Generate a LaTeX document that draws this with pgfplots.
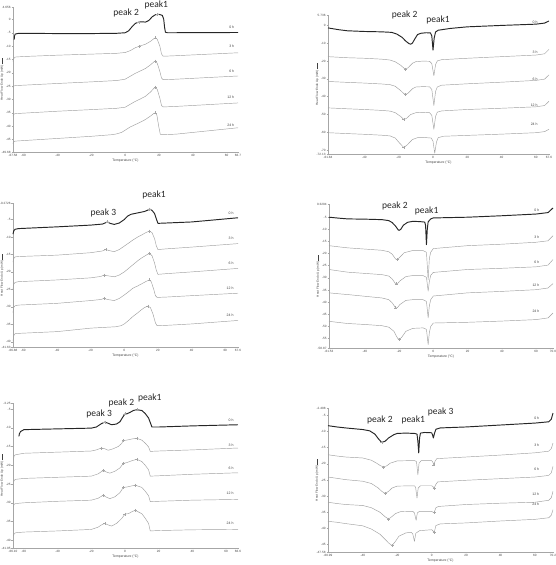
\documentclass[border=0pt]{standalone}
\usepackage{fontspec}
\setmainfont{Liberation Sans}
\newfontfamily\calib{Carlito}
\usepackage{pgfplots}
\pgfplotsset{compat=1.18}
\pgfplotsset{
  dsc/.style={
    scale only axis, anchor=south west, clip=false,
    axis x line*=bottom, axis y line*=left,
    axis line style={gray!70, line width=0.4pt, -},
    tick style={gray!70, line width=0.3pt},
    major tick length=1.5pt, tick align=outside,
    ticklabel style={font=\fontsize{3.1}{4}\selectfont, text=gray!50!black},
    /pgf/number format/assume math mode=true,
    scaled ticks=false,
    xticklabel style={inner sep=1pt},
    yticklabel style={inner sep=0.8pt},
    xlabel={Temperature (°C)},
    xlabel style={font=\fontsize{3.4}{4}\selectfont, text=gray!50!black, inner sep=1pt},
    ylabel={Heat Flow Endo Up (mW) \rule[0.25ex]{6pt}{0.5pt}},
    ylabel style={font=\fontsize{3.1}{4}\selectfont, text=gray!50!black, at={(axis description cs:-0.056,0.5)}, anchor=north, inner sep=0pt},
  },
  h0/.style={black!85, line width=0.95pt, line join=round},
  hx/.style={gray!75, line width=0.45pt, line join=round},
  pk/.style={only marks, mark=+, mark size=1.5pt, gray!70, mark options={line width=0.35pt}},
}
\newcommand{\hl}[3]{\node[font=\fontsize{3.5}{4}\selectfont, text=gray!50!black, anchor=east] at (axis cs:#1,#2) {#3};}
\newcommand{\pl}[3]{\node[font=\calib\fontsize{9.5}{11}\selectfont, text=black!85] at (axis cs:#1,#2) {#3};}
\begin{document}
\begin{tikzpicture}[x=1pt,y=1pt]
\useasboundingbox (0,0) rectangle (556,565);
% ---------------- Panel 1 ----------------
\begin{axis}[dsc, at={(13pt,413pt)}, width=225pt, height=145pt,
  xmin=-66.3, xmax=66.7, ymin=-49.68, ymax=4.656,
  xtick={-66.3,-60,-40,-20,0,20,40,60,66.7},
  xticklabels={-67.58,-60,-40,-20,0,20,40,60,66.7},
  ytick={-49.68,-45,-40,-35,-30,-25,-20,-15,-10,-5,0,4.656},
  yticklabels={-49.68,-45,-40,-35,-30,-25,-20,-15,-10,-5,0,4.656}]
\addplot[h0] coordinates {(-65.6,-7.6) (-65.4,-6.2) (-65,-5.5) (-63,-5.2) (-40,-5.3) (-20,-5.3) (-5,-5.2) (0,-5.0) (2,-4.3) (4,-2.8) (6,-1.5) (8,-1.0) (10,-0.9) (12,-1.0) (14,-0.4) (16,1.0) (18,1.8) (20,1.9) (22,1.5) (22.8,0) (23.3,-3) (23.8,-4.8) (25,-5.0) (66.7,-4.9)};
\addplot[hx] coordinates {(-66.3,-15.8) (-66,-14.8) (-65,-14.1) (-60,-13.9) (-40,-13.4) (-20,-13.0) (-5,-12.7) (0,-12.4) (3,-11.7) (6,-10.6) (9,-9.9) (12,-9.3) (15,-8.2) (17,-7.2) (18,-6.9) (19,-7.5) (20.5,-10) (21.5,-13) (22.5,-13.8) (30,-13.6) (66.7,-12.5)};
\addplot[hx] coordinates {(-66.3,-25.6) (-66,-25) (-65,-24.8) (-40,-24.0) (-20,-23.4) (-5,-22.9) (0,-22.4) (3,-21.3) (6,-20.2) (9,-19.3) (12,-18.4) (15,-17) (17,-15.9) (18,-15.6) (19,-16.5) (20.5,-19.5) (21.5,-22) (22.5,-22.6) (30,-22.4) (66.7,-21.2)};
\addplot[hx] coordinates {(-66.3,-36.3) (-66,-35.6) (-65,-35.3) (-40,-34.4) (-20,-33.8) (-5,-33.3) (0,-32.9) (3,-31.8) (6,-30.7) (9,-29.8) (12,-28.8) (15,-27.2) (17,-25.8) (18,-25.4) (19,-26.3) (20.5,-29.5) (21.5,-32.3) (22.5,-32.8) (30,-32.6) (66.7,-31.3)};
\addplot[hx] coordinates {(-66.3,-46.6) (-66,-45.9) (-65,-45.6) (-40,-44.6) (-20,-43.8) (-8,-43.2) (-5,-42.9) (-2,-42.3) (0,-41.5) (3,-40.3) (6,-39.4) (9,-38.5) (12,-37.5) (15,-36.2) (17,-35.2) (18,-35.0) (18.8,-36) (19.8,-40) (20.8,-43.1) (22,-43.2) (30,-43) (66.7,-40.6)};
\addplot[pk] coordinates {(8,-1.0) (19,1.9) (8.5,-10.1) (18,-6.9) (18,-15.6) (18,-25.4) (18,-35)};
\hl{66.5}{-2.8}{0 h} \hl{66.5}{-10}{3 h} \hl{66.5}{-19.4}{6 h} \hl{66.5}{-29}{12 h} \hl{66.5}{-39.7}{24 h}
\pl{0.6}{2.3}{peak 2} \pl{18.4}{5.3}{peak1}
\end{axis}
% ---------------- Panel 2 ----------------
\begin{axis}[dsc, at={(328pt,411pt)}, width=221pt, height=139pt,
  xmin=-61.2, xmax=67.6, ymin=-72.13, ymax=5.736,
  xtick={-61.2,-40,-20,0,20,40,60,67.6},
  xticklabels={-61.84,-40,-20,0,20,40,60,67.6},
  ytick={-72.13,-70,-60,-50,-40,-30,-20,-10,0,5.736},
  yticklabels={-72.13,-70,-60,-50,-40,-30,-20,-10,0,5.736}]
\addplot[h0] coordinates {(-61.2,-1.5) (-55,-2.5) (-50,-3.1) (-40,-3.5) (-30,-3.7) (-24,-4.0) (-21,-5.0) (-18,-6.8) (-16,-8.8) (-14,-10.3) (-13,-10.6) (-12,-10.0) (-10.5,-7.5) (-9,-5.2) (-7,-4.5) (-4,-4.2) (-1.5,-4.3) (-0.7,-6) (0,-13.9) (0.7,-7) (1.5,-3.8) (3,-2.8) (10,-1.8) (20,-0.9) (40,-0.1) (60,0.6) (65,1.2) (67.6,2.4)};
\addplot[hx] coordinates {(-61.2,-17.6) (-50,-18.2) (-40,-18.5) (-30,-19.0) (-25,-19.5) (-22,-20.5) (-19,-22.3) (-17,-24) (-16,-24.6) (-14.5,-23.8) (-12,-21.3) (-10,-20.4) (-6,-20.1) (-2,-20.2) (-0.7,-21.5) (0.5,-28.3) (1.5,-22) (2.5,-20) (5,-19.3) (20,-18.5) (40,-17.6) (60,-16.7) (65,-16.0) (67.6,-13.5)};
\addplot[hx] coordinates {(-61.2,-31.5) (-50,-32) (-40,-32.4) (-30,-32.9) (-25,-33.3) (-22,-34.2) (-19,-36.5) (-17,-38.3) (-16,-38.9) (-14.5,-38) (-12,-35.6) (-10,-34.6) (-6,-34.4) (-2,-34.5) (-0.7,-36) (0.5,-45) (1.5,-37) (2.5,-34.6) (5,-33.6) (20,-32.8) (40,-31.9) (60,-30.9) (65,-30.2) (67.6,-27.8)};
\addplot[hx] coordinates {(-61.2,-46.3) (-50,-46.8) (-40,-47.2) (-30,-47.7) (-25,-48.1) (-22,-49) (-19,-51) (-17,-52.8) (-15.5,-52.2) (-13,-50) (-10,-49) (-6,-48.8) (-2,-49) (-0.7,-50.5) (0.5,-58.3) (1.5,-51) (2.5,-48.7) (5,-48) (20,-47.2) (40,-46.5) (60,-45.7) (65,-45) (67.6,-42.6)};
\addplot[hx] coordinates {(-61.2,-60.2) (-50,-60.7) (-40,-61.1) (-30,-61.6) (-25,-62) (-22,-63.2) (-19.5,-66) (-17,-68.5) (-15,-67) (-12,-64) (-9,-63) (-5,-62.9) (-1,-63.2) (0,-65) (1,-71.7) (2,-65.5) (3,-63) (6,-62.2) (20,-61.7) (40,-61) (60,-60.2) (65,-59.6) (67.6,-58.3)};
\addplot[pk] coordinates {(-16,-24.6) (-16,-38.9) (-17,-52.8) (-17,-68.5)};
\hl{63}{1.9}{0 h} \hl{63}{-15.4}{3 h} \hl{63}{-30}{6 h} \hl{63}{-45}{12 h} \hl{63}{-55.6}{24 h}
\pl{-16.5}{5.6}{peak 2} \pl{2.9}{2.8}{peak1}
\end{axis}
% ---------------- Panel 3 ----------------
\begin{axis}[dsc, at={(13pt,218pt)}, width=225pt, height=144pt,
  xmin=-66.2, xmax=67.6, ymin=-41.5, ymax=-0.27,
  xtick={-66.2,-60,-40,-20,0,20,40,60,67.6},
  xticklabels={-66.88,-60,-40,-20,0,20,40,60,67.6},
  ytick={-41.5,-40,-35,-30,-25,-20,-15,-10,-5,-0.27},
  yticklabels={-41.63,-40,-35,-30,-25,-20,-15,-10,-5,-0.2726}]
\addplot[h0] coordinates {(-66.2,-9.2) (-65.8,-8.3) (-65,-7.8) (-63,-7.6) (-40,-7.1) (-20,-6.6) (-13,-6.3) (-11,-5.9) (-10,-5.7) (-8.5,-6.1) (-6,-6.4) (-3,-6.0) (0,-5.0) (2,-4.0) (4,-3.5) (8,-3.1) (12,-2.7) (14,-2.3) (15,-2.0) (16.5,-2.4) (18,-3.3) (19,-4.8) (20,-6.1) (25,-6.0) (40,-5.7) (67.6,-4.5)};
\addplot[hx] coordinates {(-66.2,-17.2) (-65.8,-16.2) (-65,-15.7) (-63,-15.6) (-40,-15.2) (-20,-14.5) (-13,-14) (-11,-13.6) (-9,-13.9) (-6,-14.2) (-3,-13.6) (0,-12.6) (3,-11.6) (5,-10.9) (8,-10) (10,-9.5) (13,-8.7) (15,-8.3) (16.5,-8.8) (18,-10.5) (19,-12.5) (20,-13.6) (25,-13.4) (40,-12.9) (67.6,-11.9)};
\addplot[hx] coordinates {(-66.2,-25) (-65.8,-23.6) (-65,-23) (-63,-22.8) (-40,-22.3) (-20,-21.7) (-14,-21.3) (-12,-20.9) (-10,-21.1) (-6,-21.4) (-3,-20.9) (0,-20) (3,-18.8) (5,-18) (8,-16.8) (10,-16.1) (13,-15.2) (15,-14.7) (16.5,-15.4) (18,-17.5) (19,-19.5) (20,-20.7) (25,-20.5) (40,-20) (67.6,-19)};
\addplot[hx] coordinates {(-66.2,-31.7) (-65.8,-30.2) (-65,-29.7) (-63,-29.5) (-40,-29) (-20,-28.2) (-14,-27.9) (-12,-27.6) (-10,-27.9) (-6,-28.2) (-3,-27.6) (0,-26.6) (3,-25.5) (5,-24.7) (8,-24) (10,-23.5) (13,-22.7) (15,-22.3) (16,-22.8) (17.5,-25) (18.5,-26.8) (19.5,-27.3) (25,-27.2) (40,-26.8) (67.6,-26.1)};
\addplot[hx] coordinates {(-66.2,-39.8) (-65.8,-38.3) (-65,-37.7) (-63,-37.6) (-40,-37.1) (-20,-36.1) (-5,-35.7) (-2,-35.4) (0,-34.9) (3,-33.7) (5,-32.8) (8,-31.7) (10,-30.9) (12,-30.2) (14,-29.8) (15.5,-30.2) (17,-32) (18.5,-34.6) (19.5,-35.4) (25,-35.3) (40,-34.9) (67.6,-33.9)};
\addplot[pk] coordinates {(-10,-5.7) (15,-2.0) (-11,-13.6) (15,-8.3) (-12,-20.9) (15,-14.7) (-12,-27.6) (15,-22.3) (14,-29.8)};
\hl{67}{-3.3}{0 h} \hl{67}{-10.4}{3 h} \hl{67}{-17.6}{6 h} \hl{67}{-24.7}{12 h} \hl{67}{-32.3}{24 h}
\pl{-12.5}{-3}{peak 3} \pl{17.7}{2}{peak1}
\end{axis}
% ---------------- Panel 4 ----------------
\begin{axis}[dsc, at={(329pt,217pt)}, width=224pt, height=144pt,
  xmin=-60.9, xmax=69.9, ymin=-58.87, ymax=0.33,
  xtick={-60.9,-40,-20,0,20,40,60,69.9},
  xticklabels={-61.53,-40,-20,0,20,40,60,70.0},
  ytick={-58.87,-55,-50,-45,-40,-35,-30,-25,-20,-15,-10,-5,0.33},
  yticklabels={-58.87,-55,-50,-45,-40,-35,-30,-25,-20,-15,-10,-5,0.3294}]
\addplot[h0] coordinates {(-60.9,-5.1) (-55,-5.5) (-50,-5.8) (-40,-5.9) (-30,-6.1) (-26,-6.5) (-24,-7.3) (-22,-8.8) (-20.5,-10.3) (-20,-10.5) (-19,-10.1) (-17.5,-8.4) (-15,-7.2) (-12,-6.8) (-8,-6.9) (-5,-7.1) (-4.5,-8.5) (-4,-16.4) (-3.5,-10) (-3,-7) (-1.5,-5.8) (0,-5.4) (20,-5.1) (40,-4.5) (60,-3.8) (67,-3.2) (69.9,-1.3)};
\addplot[hx] coordinates {(-60.9,-16.8) (-55,-17.3) (-50,-17.7) (-40,-18.2) (-30,-18.7) (-26,-19.3) (-24,-20.3) (-22,-22.3) (-21,-22.5) (-19.5,-21.5) (-17,-19.7) (-12,-18.8) (-6,-18.8) (-4,-19.5) (-3,-30.8) (-2.3,-22) (-1.5,-19.5) (0,-18) (20,-16.8) (40,-16.2) (60,-15.4) (67,-14.8) (69.9,-12.7)};
\addplot[hx] coordinates {(-60.9,-26.6) (-55,-27.2) (-50,-27.7) (-40,-28.2) (-30,-28.7) (-26,-29.3) (-24,-30.5) (-22,-32.5) (-21,-32.5) (-19.5,-31.3) (-16,-29.5) (-12,-29.1) (-6,-29.1) (-4,-29.8) (-3,-35.5) (-2.3,-31.5) (-1.5,-29) (0,-27.8) (20,-26.6) (40,-26.1) (60,-25.5) (67,-24.8) (69.9,-22.5)};
\addplot[hx] coordinates {(-60.9,-36.2) (-55,-36.6) (-50,-36.9) (-40,-37.6) (-30,-38.3) (-26,-39) (-24,-40.3) (-22,-42.4) (-21,-42.3) (-19.5,-41) (-16,-39.3) (-12,-39) (-6,-39) (-4,-39.7) (-3,-46.5) (-2.3,-41.5) (-1.5,-39) (0,-37.5) (20,-36.2) (40,-35.6) (60,-34.9) (67,-34.2) (69.9,-32.4)};
\addplot[hx] coordinates {(-60.9,-47.9) (-55,-48.4) (-50,-48.8) (-40,-49.2) (-30,-49.7) (-26,-50.3) (-23,-52) (-21,-54.7) (-20,-55.4) (-18.5,-54.5) (-16,-52) (-12,-50.8) (-6,-50.6) (-4,-51.2) (-3,-57.5) (-2.3,-52.5) (-1.5,-50) (0,-48.6) (20,-48.3) (40,-47.8) (60,-47.2) (67,-46.5) (69.9,-44.5)};
\addplot[pk] coordinates {(-21,-22.5) (-21.5,-32.5) (-22,-42.4) (-20,-55.4)};
\hl{64}{-2.3}{0 h} \hl{64}{-13.2}{3 h} \hl{64}{-23.5}{6 h} \hl{64}{-33.2}{12 h} \hl{64}{-43.8}{24 h}
\pl{-22.4}{-0.3}{peak 2} \pl{-3.9}{-2.7}{peak1}
\end{axis}
% ---------------- Panel 5 ----------------
\begin{axis}[dsc, at={(13pt,17pt)}, width=225pt, height=145pt,
  xmin=-66.5, xmax=67.1, ymin=-42.05, ymax=-3.4,
  xtick={-66.5,-60,-40,-20,0,20,40,60,67.1},
  xticklabels={-66.10,-60,-40,-20,0,20,40,60,66.6},
  ytick={-42.05,-40,-35,-30,-25,-20,-15,-10,-5,-3.4},
  yticklabels={-41.95,-40,-35,-30,-25,-20,-15,-10,-5,-3.25}]
\addplot[h0] coordinates {(-63,-12.3) (-62.7,-11.6) (-62,-11) (-60,-10.5) (-40,-10.3) (-20,-10.1) (-17,-9.8) (-14,-8.9) (-12,-8.5) (-10,-8.8) (-8,-9.2) (-5,-9.0) (-3,-8.4) (-1.5,-7.3) (0,-6.3) (1,-6.3) (3,-5.9) (5,-5.4) (7,-5.2) (10,-5.4) (12,-6.2) (14,-7.4) (15,-8.6) (16,-9.8) (20,-9.8) (40,-9.5) (67.1,-9.2)};
\addplot[hx] coordinates {(-66.3,-18.6) (-65.8,-17.4) (-65,-17.2) (-60,-16.8) (-40,-16.5) (-20,-16.2) (-17,-15.9) (-14,-15.4) (-12,-15.6) (-10,-16.0) (-7,-15.6) (-4,-15.0) (-2,-14.2) (-1,-13.4) (1,-13.3) (4,-13.0) (7,-12.8) (10,-13.3) (12,-14.1) (14,-15.1) (15,-16.3) (20,-16.2) (40,-15.9) (67.1,-15.4)};
\addplot[hx] coordinates {(-66.3,-24.8) (-65.8,-24) (-65,-23.75) (-60,-23.5) (-40,-23.2) (-20,-22.9) (-16,-22.3) (-13,-21.4) (-11,-21.8) (-9,-22.1) (-6,-21.6) (-3,-20.7) (-1,-19.5) (1,-19.3) (4,-18.8) (7,-18.4) (10,-19) (12,-20) (14,-21.2) (15,-22.9) (20,-22.8) (40,-22.4) (67.1,-22)};
\addplot[hx] coordinates {(-66.3,-31) (-65.8,-30.4) (-65,-30.2) (-60,-30) (-40,-29.6) (-20,-29.3) (-16,-28.8) (-13,-28) (-11,-28.5) (-9,-28.9) (-6,-28.4) (-3,-27.3) (-1,-25.9) (1,-25.8) (4,-25.5) (6,-25.3) (10,-25.9) (12,-26.9) (14,-28.1) (15,-29.7) (20,-29.6) (40,-29.3) (67.1,-29.1)};
\addplot[hx] coordinates {(-66.3,-38.9) (-65.8,-38.2) (-65,-38) (-60,-37.8) (-40,-37.5) (-20,-37.1) (-16,-36.5) (-14,-35.9) (-12,-35.5) (-10,-35.9) (-8,-36.2) (-5,-35.5) (-2,-34.2) (0,-33) (2,-32.9) (4,-32.4) (6,-32) (10,-32.9) (12,-34.1) (14,-35.5) (15,-37.5) (20,-37.4) (40,-37.2) (67.1,-37.1)};
\addplot[pk] coordinates {(-12,-8.5) (0,-6.3) (7,-5.2) (-14,-15.4) (-1,-13.4) (7,-12.8) (-13,-21.4) (-1,-19.5) (7,-18.4) (-13,-28) (-1,-25.9) (6,-25.3) (-12,-35.5) (0,-33) (6,-32)};
\hl{66.5}{-7.9}{0 h} \hl{66.5}{-14.6}{3 h} \hl{66.5}{-20.8}{6 h} \hl{66.5}{-27.5}{12 h} \hl{66.5}{-35.5}{24 h}
\pl{-15.4}{-6.3}{peak 3} \pl{-2.2}{-3.4}{peak 2} \pl{14.7}{-2.05}{peak1}
\end{axis}
% ---------------- Panel 6 ----------------
\begin{axis}[dsc, at={(328pt,13pt)}, width=225pt, height=144pt,
  xmin=-60.2, xmax=70.5, ymin=-47.3, ymax=-2.73,
  xtick={-60.2,-40,-20,0,20,40,60,70.5},
  xticklabels={-60.99,-40,-20,0,20,40,60,70.2},
  ytick={-47.3,-45,-40,-35,-30,-25,-20,-15,-10,-5,-2.73},
  yticklabels={-47.58,-45,-40,-35,-30,-25,-20,-15,-10,-5,-2.498}]
\addplot[h0] coordinates {(-60.2,-8.2) (-55,-8.6) (-50,-8.9) (-40,-9.4) (-36,-9.8) (-33,-10.8) (-31,-12.2) (-29,-13.4) (-27,-13.0) (-25,-12.0) (-22,-11.0) (-20,-10.6) (-15,-10.5) (-10,-10.6) (-8.5,-10.8) (-8,-13) (-7.5,-16.6) (-7,-12) (-6.5,-10.5) (-4,-10.3) (0,-10.4) (0.5,-11) (1,-12) (1.7,-10.5) (2.5,-9.3) (5,-8.9) (20,-8.6) (40,-8.0) (60,-7.4) (68,-7.0) (69.5,-6.2) (70.5,-4.3)};
\addplot[hx] coordinates {(-60.2,-17.2) (-55,-17.6) (-50,-17.9) (-40,-18.2) (-35,-18.9) (-32,-19.8) (-30,-20.5) (-28,-21) (-26,-20.6) (-24,-19.8) (-20,-19.1) (-10,-19) (-8.8,-19.3) (-8,-23.4) (-7.3,-19.8) (-6,-19) (0,-19) (0.7,-19.5) (1.2,-20.3) (2,-19.2) (3,-18.4) (20,-17.9) (40,-17.3) (60,-16.6) (68,-16.1) (69.5,-15.3) (70.5,-13.6)};
\addplot[hx] coordinates {(-60.2,-24.1) (-55,-24.5) (-50,-24.9) (-40,-25.4) (-35,-26.1) (-31,-27.5) (-29,-28.5) (-27,-29.2) (-25,-28.5) (-23,-27.5) (-20,-26.9) (-10,-26.8) (-9.3,-27.3) (-8.5,-30.6) (-7.8,-27.5) (-6.5,-26.8) (0,-26.8) (0.8,-27.1) (1.5,-27.5) (2.3,-26.5) (3.5,-25.6) (20,-25.1) (40,-24.6) (60,-24.1) (68,-23.6) (69.5,-22.8) (70.5,-20.8)};
\addplot[hx] coordinates {(-60.2,-31.9) (-55,-32.3) (-50,-32.6) (-40,-32.9) (-35,-33.6) (-30,-35) (-27,-36.4) (-25,-37.1) (-23,-36.3) (-21,-35.4) (-18,-34.8) (-11,-34.7) (-10,-35.2) (-9,-37.5) (-8.3,-35.2) (-7,-34.7) (0,-34.7) (0.8,-35) (1.5,-35) (2.5,-33.6) (4,-33.2) (20,-32.6) (40,-32.2) (60,-31.9) (68,-31.3) (69.5,-30.5) (70.5,-28.5)};
\addplot[hx] coordinates {(-60.2,-37.8) (-55,-38.1) (-50,-38.5) (-40,-39.2) (-35,-40.2) (-30,-41.8) (-27,-43.4) (-25,-44.5) (-23,-45.3) (-21,-44) (-19,-42.4) (-15,-41.4) (-12,-41.2) (-11,-41.6) (-10,-44) (-9.2,-41.5) (-7,-40.7) (0,-40.4) (0.8,-40.8) (1.5,-41.2) (2.5,-39.1) (5,-38.6) (20,-38.3) (40,-37.7) (60,-37.2) (68,-36.7) (69.5,-35.9) (70.5,-34.2)};
\addplot[pk] coordinates {(-29,-13.4) (-28,-21) (1.2,-20.3) (-27,-29.2) (1.5,-27.5) (-25,-37.1) (1.5,-35) (-23,-45.3) (1.5,-41.2)};
\hl{64.5}{-5.8}{0 h} \hl{64.5}{-14.4}{3 h} \hl{64.5}{-21.8}{6 h} \hl{64.5}{-29.5}{12 h} \hl{64.5}{-32.6}{24 h}
\pl{-30.1}{-6.3}{peak 2} \pl{-10.7}{-6.5}{peak1} \pl{5.2}{-4.1}{peak 3}
\end{axis}
\end{tikzpicture}
\end{document}
